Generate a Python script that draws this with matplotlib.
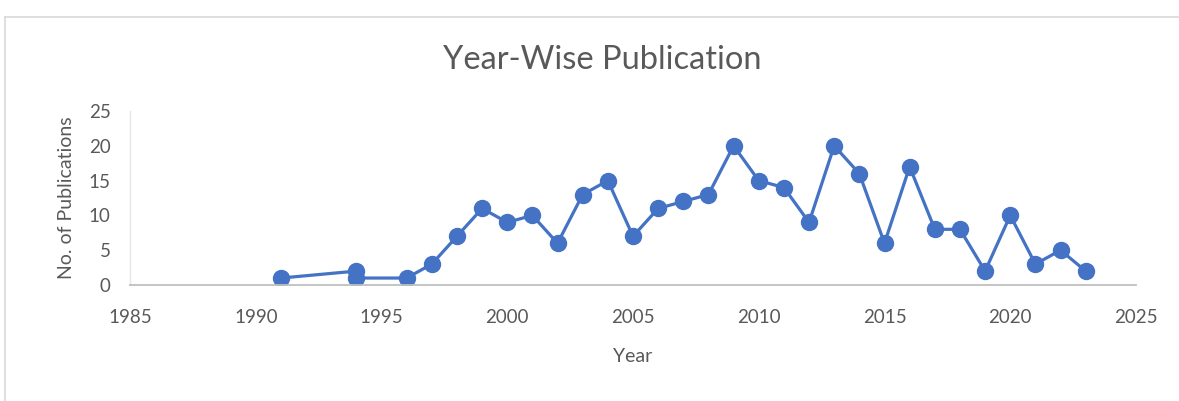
import matplotlib
matplotlib.use("Agg")
import matplotlib.pyplot as plt
from matplotlib.lines import Line2D

years = [1991, 1994, 1994, 1996, 1997, 1998, 1999, 2000, 2001, 2002, 2003, 2004, 2005,
         2006, 2007, 2008, 2009, 2010, 2011, 2012, 2013, 2014, 2015, 2016, 2017, 2018,
         2019, 2020, 2021, 2022, 2023]
pubs = [1, 2, 1, 1, 3, 7, 11, 9, 10, 6, 13, 15, 7,
        11, 12, 13, 20, 15, 14, 9, 20, 16, 6, 17, 8, 8,
        2, 10, 3, 5, 2]
x_ticks = [1985, 1990, 1995, 2000, 2005, 2010, 2015, 2020, 2025]
y_ticks = [0, 5, 10, 15, 20, 25]

plt.rcParams['font.family'] = ['Lato', 'DejaVu Sans']
gray = '#595959'
blue = '#4472C4'

fig = plt.figure(figsize=(11.79, 4.01), dpi=100)
ax = fig.add_axes([130/1179, 1-285/401, (1136-130)/1179, (285-111)/401])

ax.plot(years, pubs, color=blue, lw=2.3, marker='o', markersize=11.5,
        markerfacecolor=blue, markeredgecolor=blue)

ax.set_xlim(1985, 2025)
ax.set_ylim(0, 25)
ax.set_xticks(x_ticks)
ax.set_yticks(y_ticks)
ax.tick_params(axis='both', length=0, labelsize=13.5, colors=gray)
ax.tick_params(axis='x', pad=17)
ax.tick_params(axis='y', pad=14)
for s in ['top', 'right']:
    ax.spines[s].set_visible(False)
ax.spines['bottom'].set_color('#BFBFBF')
ax.spines['bottom'].set_linewidth(1.3)
ax.spines['left'].set_color('#E6E6E6')
ax.spines['left'].set_linewidth(1.0)

ax.set_xlabel('Year', fontsize=14, color=gray, labelpad=16)
ax.set_ylabel('No. of Publications', fontsize=14, color=gray, labelpad=10)
fig.text(602/1179, 1-60/401, 'Year-Wise Publication', fontsize=23.5, color=gray,
         ha='center', va='center')

# outer chart border
fig.add_artist(Line2D([5/1179, 1], [1-17/401, 1-17/401], transform=fig.transFigure,
                      color='#D9D9D9', lw=1.2))
fig.add_artist(Line2D([5/1179, 5/1179], [0, 1-17/401], transform=fig.transFigure,
                      color='#D9D9D9', lw=1.2))

fig.savefig('out.png', dpi=100)
